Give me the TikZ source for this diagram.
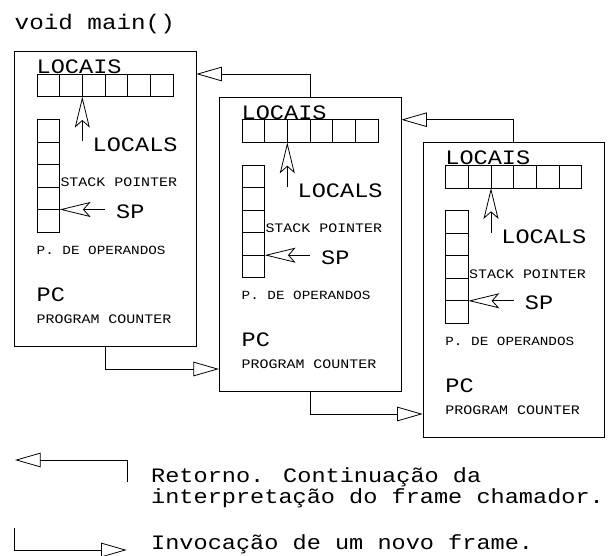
\documentclass[tikz,border=0pt]{standalone}
\usepackage{fontspec}
\newfontfamily\cour[FakeStretch=1.15]{Liberation Mono}
\usetikzlibrary{arrows.meta}
\tikzset{
  frm/.style={draw, line width=0.8pt, minimum width=181.5pt, minimum height=294.5pt, anchor=north west, inner sep=0pt},
  conn/.style={line width=0.8pt, -{Triangle[open, length=25.6pt, width=14.5pt]}},
  ptr/.style={line width=0.8pt, -{Stealth[open, length=31pt, width=15pt, inset=6.6pt]}},
  cell/.style={line width=0.8pt},
  bigt/.style={font=\cour\fontsize{20.5pt}{20.6pt}\selectfont, inner sep=0pt, anchor=base west},
  titlet/.style={font=\cour\fontsize{21.1pt}{22pt}\selectfont, inner sep=0pt, anchor=base west},
  smallt/.style={font=\cour\fontsize{13pt}{15pt}\selectfont, inner sep=0pt, anchor=base west},
  smallu/.style={font=\cour\fontsize{12.45pt}{15pt}\selectfont, inner sep=0pt, anchor=base west},
}
\newcommand\fcontent[1]{%
  \begin{scope}[shift={(#1.north west)}]
    \node[bigt] (#1lt) at (22.5,22.5) {LOCAIS};
    \draw[cell] (23,23) rectangle (159,45.67);
    \foreach \i in {1,...,5} \draw[cell] ({23+\i*22.67},23) -- ++(0,22.67);
    \coordinate (#1la) at (68.3,90.5);
    \coordinate (#1lb) at (68.3,45.67);
    \draw[ptr] (#1la) -- (#1lb);
    \node[bigt] (#1ls) at (78.5,101) {LOCALS};
    \draw[cell] (23,68.5) rectangle (45.6,181);
    \foreach \i in {1,...,4} \draw[cell] (23,{68.5+\i*22.5}) -- ++(22.6,0);
    \node[smallt] (#1st) at (46.3,136) {STACK POINTER};
    \coordinate (#1sa) at (91,158.5);
    \coordinate (#1sb) at (45.6,158.5);
    \draw[ptr] (#1sa) -- (#1sb);
    \node[bigt] (#1sp) at (102,167.5) {SP};
    \node[smallu] (#1op) at (22.5,203) {P. DE OPERANDOS};
    \node[bigt] (#1pc) at (22.5,250) {PC};
    \node[smallt] (#1pg) at (22.5,272) {PROGRAM COUNTER};
  \end{scope}}
\begin{document}
\begin{tikzpicture}[x=1pt,y=-1pt]
  \useasboundingbox (0,0) rectangle (610,556);
  \node[titlet] (title) at (14.5,29.3) {void main()};
  \node[frm] (f1) at (14,51) {};
  \node[frm] (f2) at (219,96.7) {};
  \node[frm] (f3) at (422.7,142.3) {};
  \fcontent{f1}
  \fcontent{f2}
  \fcontent{f3}
  \draw[conn] (f2.north) |- ([yshift=-23pt]f1.north east);
  \draw[conn] (f3.north) |- ([yshift=-23pt]f2.north east);
  \draw[conn] (f1.south) |- ([yshift=-272.3pt]f2.north west);
  \draw[conn] (f2.south) |- ([yshift=-271.7pt]f3.north west);
  % legend
  \coordinate (r1) at (127.7,482.3);
  \coordinate (r2) at (15,460);
  \draw[conn] (r1) |- (r2);
  \node[bigt] (ret) at (151,482.7) {\vtop{\hbox{Retorno. Continuação da}\hbox{interpretação do frame chamador.}}};
  \coordinate (i1) at (14,528.3);
  \coordinate (i2) at (126.7,550);
  \draw[conn] (i1) |- (i2);
  \node[bigt] (inv) at (151,549) {Invocação de um novo frame.};
\end{tikzpicture}
\end{document}
